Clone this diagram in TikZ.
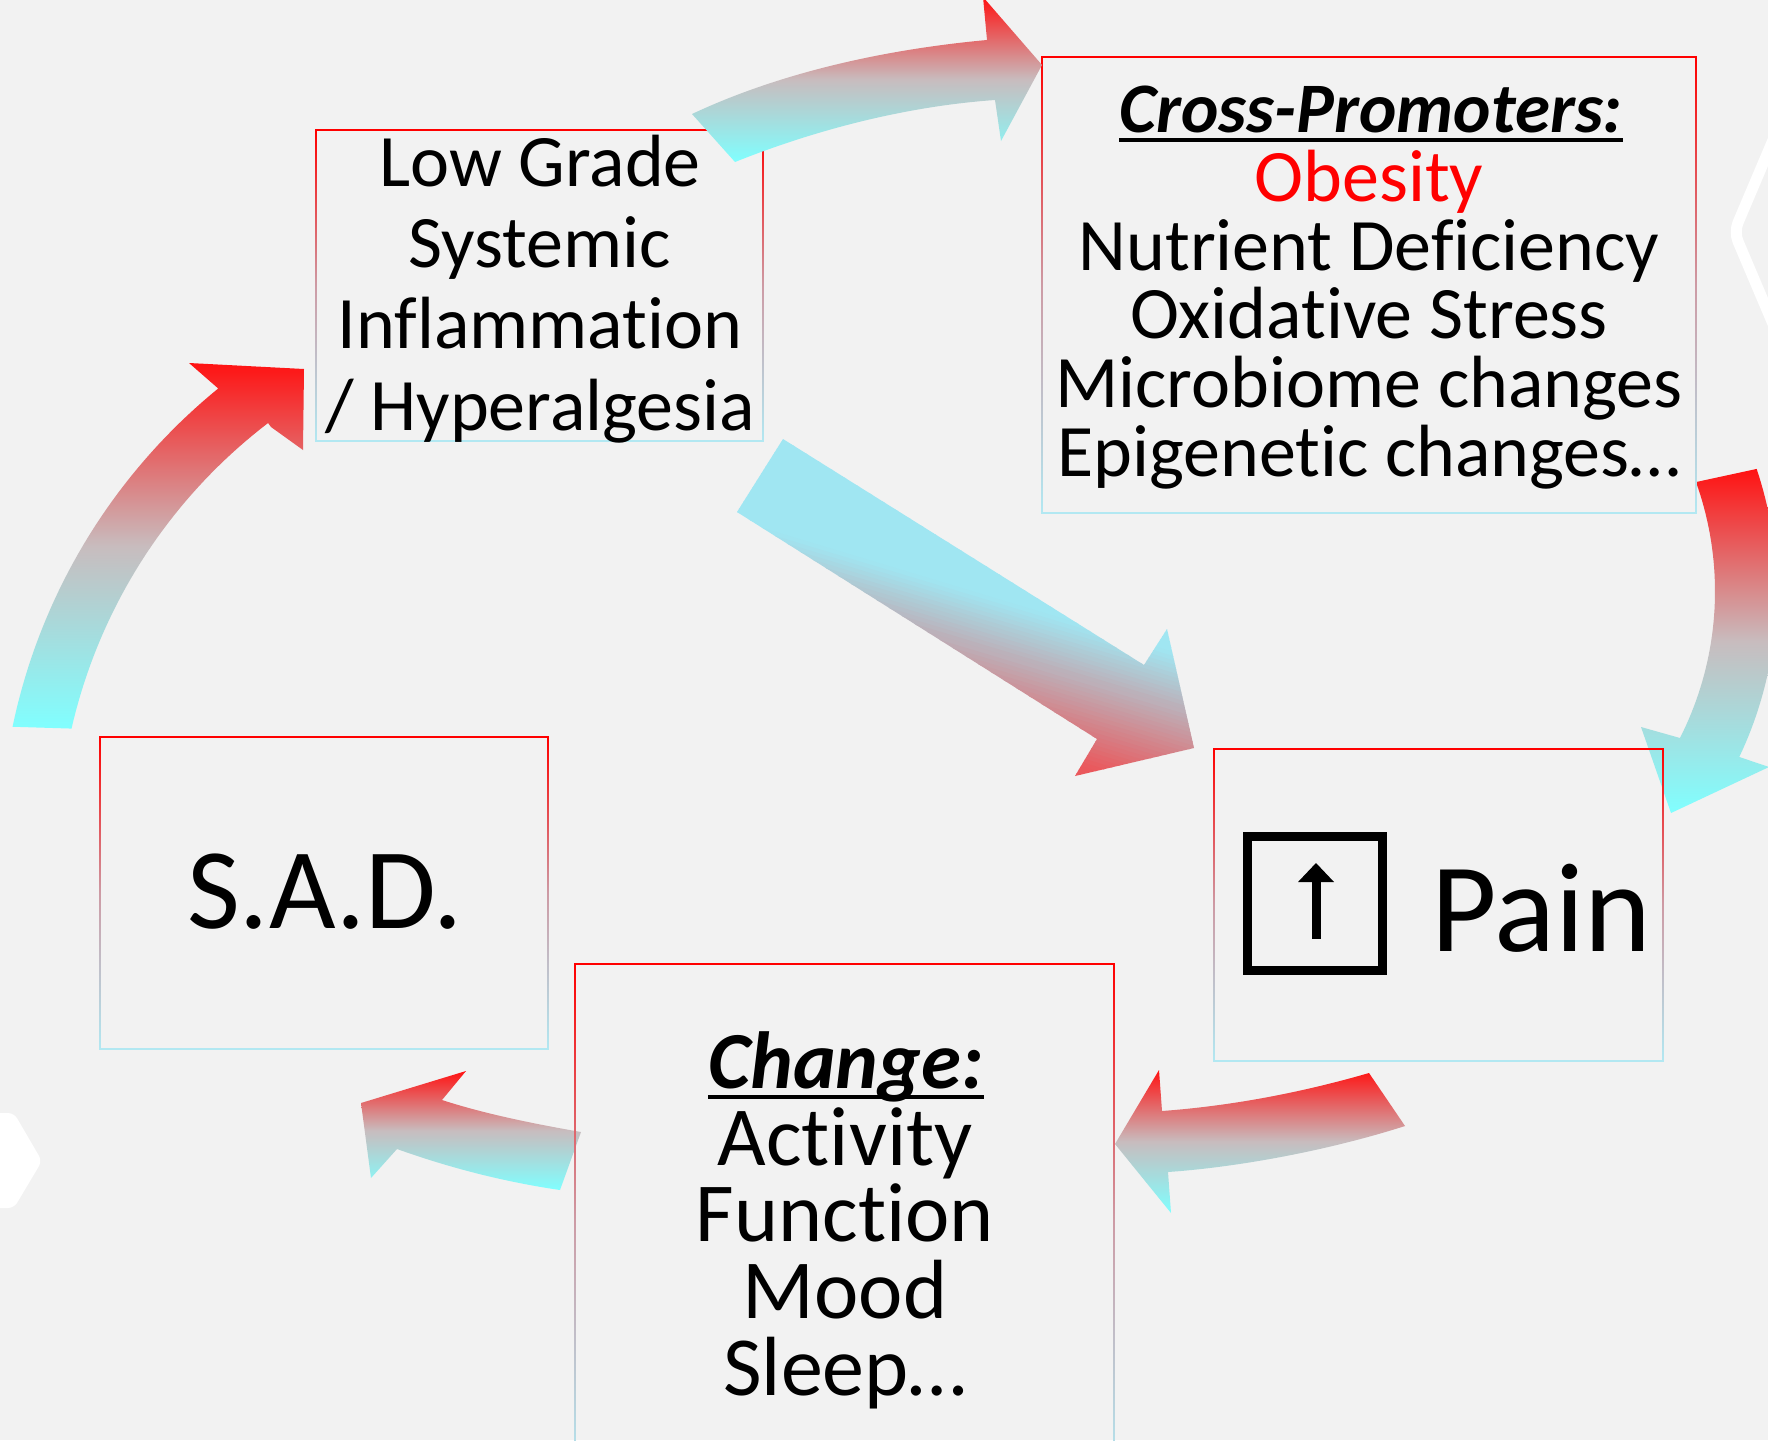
\documentclass[tikz,border=0pt]{standalone}
\usepackage{fontspec}
\setmainfont{Carlito}[Ligatures={NoCommon,NoRare,NoContextual}]
\usetikzlibrary{calc,fit}
\definecolor{bg}{RGB}{242,242,242}
\definecolor{arrRed}{RGB}{255,18,18}
\definecolor{arrMid}{RGB}{200,188,190}
\definecolor{arrCyan}{RGB}{128,255,255}
\definecolor{bordRed}{RGB}{255,0,0}
\definecolor{bordMid}{RGB}{205,155,165}
\definecolor{bordCyan}{RGB}{178,232,242}
\definecolor{cyanD}{RGB}{160,230,242}
\definecolor{redD}{RGB}{234,88,92}
\tikzset{
  blockarrow/.style={top color=arrRed, bottom color=arrCyan, middle color=arrMid},
  lbl/.style={inner sep=0pt, anchor=base, text=black},
  fLG/.style={font=\fontsize{74pt}{78pt}\selectfont},
  fCP/.style={font=\fontsize{74pt}{78pt}\selectfont},
  fCH/.style={font=\fontsize{84pt}{88pt}\selectfont},
}
\newcommand\gradbox[5]{%
  \coordinate (#1-nw) at (#2,#3);
  \coordinate (#1-se) at (#4,#5);
  \node[fit=(#1-nw)(#1-se), inner sep=0pt] (#1) {};
  \shade[top color=bordRed, bottom color=bordCyan, middle color=bordMid] (#2-0.9,#3) rectangle (#2+0.9,#5);
  \shade[top color=bordRed, bottom color=bordCyan, middle color=bordMid] (#4-0.9,#3) rectangle (#4+0.9,#5);
  \fill[bordRed] (#2-0.9,#3-0.9) rectangle (#4+0.9,#3+0.9);
  \fill[bordCyan] (#2-0.9,#5-0.9) rectangle (#4+0.9,#5+0.9);
}
\begin{document}
\begin{tikzpicture}[x=1pt,y=-1pt]
\useasboundingbox (0,0) rectangle (1768,1440);
\fill[bg] (0,0) rectangle (1768,1440);
\begin{scope}
\clip (0,0) rectangle (1768,1440);
% decorative hexagons
\draw[white, line width=11pt, rounded corners=10pt] (1790,100) -- (1734,232) -- (1790,364);
\fill[white, rounded corners=6pt] (-60,1113) -- (14,1113) -- (42,1161) -- (14,1208) -- (-60,1208) -- cycle;

% left arc arrow (S.A.D. -> Low Grade)
\path[blockarrow] plot[domain=168.2:129.2, samples=40] ({593+593*cos(\x)},{848-593*sin(\x)})
  -- (189,363) -- (304,369) -- (303,450) -- (271,427)
  -- plot[domain=127.4:167.1, samples=40] ({593+535*cos(\x)},{848-535*sin(\x)}) -- cycle;

% right arc arrow (Cross-Promoters -> Pain)
\path[blockarrow] plot[domain=18.5:-25.4, samples=40] ({1390.6+386*cos(\x)},{591.4-386*sin(\x)})
  -- (1769,767) -- (1671,813) -- (1641,727) -- (1680,738)
  -- plot[domain=-26.9:19.7, samples=40] ({1390.6+324.4*cos(\x)},{591.4-324.4*sin(\x)}) -- cycle;

% bottom arrow (Pain -> Change)
\path[blockarrow] (1369,1073) .. controls (1300,1093) and (1230,1106) .. (1162,1111)
  -- (1159,1070) -- (1115,1144) -- (1171,1213) -- (1168,1172)
  .. controls (1240,1167) and (1330,1150) .. (1405,1126) -- cycle;

% bottom-left arrow (Change -> S.A.D.)
\path[blockarrow] (581,1132) .. controls (535,1124) and (485,1114) .. (442,1100)
  -- (466,1071) -- (361,1103) -- (371,1178) -- (397,1149)
  .. controls (450,1168) and (505,1182) .. (560,1190) -- cycle;

% diagonal arrow (Low Grade -> Pain)
\begin{scope}
\clip (783,439) -- (1144,665) -- (1167,629) -- (1194,748) -- (1075,776) -- (1097,739) -- (737,512) -- cycle;
\foreach \i in {0,...,66}{
  \pgfmathsetmacro\sa{185+\i*4}
  \pgfmathtruncatemacro\mixp{min(100,max(0,(\sa+2-285)/135*100))}
  \fill[redD!\mixp!cyanD] ({-0.289*\sa+0.957*780},{0.957*\sa+0.289*780})
    -- ({-0.289*\sa+0.957*1420},{0.957*\sa+0.289*1420})
    -- ({-0.289*(\sa+4.6)+0.957*1420},{0.957*(\sa+4.6)+0.289*1420})
    -- ({-0.289*(\sa+4.6)+0.957*780},{0.957*(\sa+4.6)+0.289*780}) -- cycle;
}
\end{scope}

% boxes
\gradbox{lowgrade}{316}{130}{763}{441}
\gradbox{cross}{1042}{57}{1696}{513}
\gradbox{pain}{1214}{749}{1663}{1061}
\gradbox{sad}{100}{737}{548}{1049}
\gradbox{change}{575}{964}{1114}{1475}

% top arrow (Low Grade -> Cross-Promoters), drawn over Low Grade box
\path[blockarrow] (692,114) .. controls (790,68) and (900,48) .. (987,40)
  -- (983,-3) -- (1042,65) -- (1001,141) -- (995,100)
  .. controls (910,106) and (820,128) .. (735,162) -- cycle;

% texts: Low Grade box
\node[lbl,fLG] (lg1) at (540,186) {Low Grade};
\node[lbl,fLG] (lg2) at (540,267) {Systemic};
\node[lbl,fLG] (lg3) at (540,348) {Inflammation};
\node[lbl,fLG] (lg4) at (540,430) {/ Hyperalgesia};

% Cross-Promoters box
\node[lbl,font=\fontsize{71pt}{75pt}\selectfont] (cp0) at (1371,132) {\textbf{\textit{Cross-Promoters:}}};
\draw[line width=3.5pt] ([yshift=-8pt]cp0.base west) -- ([yshift=-8pt]cp0.base east);
\node[lbl,fCP,text=bordRed] (cp1) at (1369,201) {Obesity};
\node[lbl,fCP] (cp2) at (1369,270) {Nutrient Deficiency};
\node[lbl,fCP] (cp3) at (1369,338) {Oxidative Stress};
\node[lbl,fCP] (cp4) at (1369,407) {Microbiome changes};
\node[lbl,fCP] (cp5) at (1369,476) {Epigenetic changes…};

% Pain box
\node[draw, line width=9pt, minimum width=135pt, minimum height=134pt, inner sep=0pt] (painsq) at (1315,903.5) {};
\fill (1311.5,881) rectangle (1320.5,939);
\fill (1298,882) -- (1316,863) -- (1334,882) -- cycle;
\node[lbl, anchor=base west, font=\fontsize{127pt}{131pt}\selectfont] (paintxt) at (1431,951) {Pain};

% S.A.D. box
\node[lbl, font=\fontsize{115pt}{120pt}\selectfont] (sadtxt) at (325,928) {S.A.D.};

% Change box
\node[lbl,font=\fontsize{81pt}{85pt}\selectfont] (ch0) at (846,1088) {\textbf{\textit{Change:}}};
\draw[line width=3.5pt] ([yshift=-9pt]ch0.base west) -- ([yshift=-9pt]ch0.base east);
\node[lbl,fCH] (ch1) at (845,1165) {Activity};
\node[lbl,fCH] (ch2) at (845,1241) {Function};
\node[lbl,fCH] (ch3) at (845,1318) {Mood};
\node[lbl,fCH] (ch4) at (845,1395) {Sleep…};
\end{scope}
\end{tikzpicture}
\end{document}
